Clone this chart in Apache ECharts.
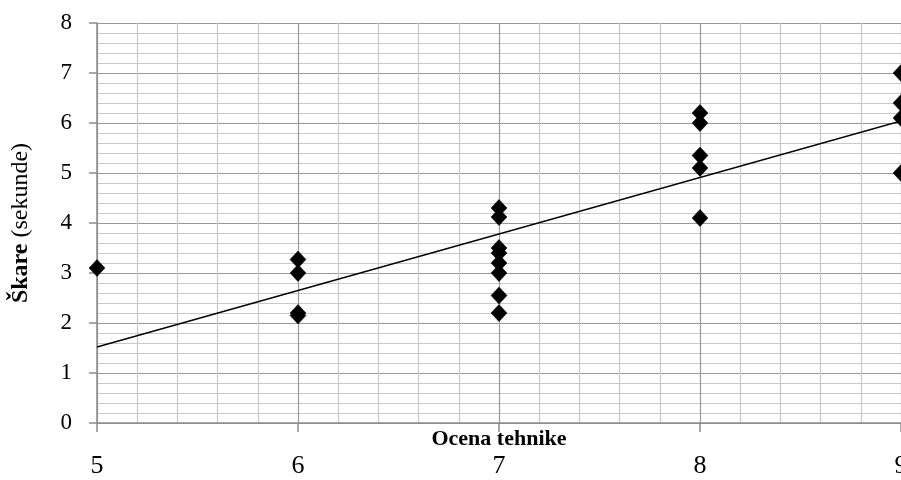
<!DOCTYPE html>
<html><head><meta charset="utf-8">
<script src="https://cdn.jsdelivr.net/npm/echarts@6/dist/echarts.min.js"></script>
<style>html,body{margin:0;padding:0;background:#fff}#c{width:901px;height:480px}</style>
</head><body><div id="c"></div>
<script>
const xValues = [5, 6, 6, 6, 6, 7, 7, 7, 7, 7, 7, 7, 7, 8, 8, 8, 8, 8, 9, 9, 9, 9];
const yValues = [3.1, 3.27, 3.0, 2.2, 2.15, 4.3, 4.12, 3.5, 3.4, 3.2, 3.0, 2.55, 2.2, 6.2, 6.0, 5.35, 5.1, 4.1, 7.0, 6.4, 6.1, 5.0];
const trendX = [5, 9];
const trendY = [1.52, 6.04];
const xTicks = [5, 6, 7, 8, 9];
const yTicks = [0, 1, 2, 3, 4, 5, 6, 7, 8];

const chart = echarts.init(document.getElementById('c'), null, {renderer: 'canvas'});
const serif = '"Liberation Serif", "DejaVu Serif", serif';
chart.setOption({
  animation: false,
  backgroundColor: '#fff',
  grid: {left: 97, top: 23, width: 804, height: 400, containLabel: false, outerBoundsMode: 'none'},
  xAxis: {
    type: 'value', min: xTicks[0], max: xTicks[xTicks.length - 1], interval: 1,
    name: 'Ocena tehnike', nameLocation: 'middle', nameGap: 5, nameMoveOverlap: false,
    nameTextStyle: {fontFamily: serif, fontWeight: 'bold', fontSize: 22, color: '#000', verticalAlign: 'top'},
    axisLine: {show: true, onZero: false, lineStyle: {color: '#8c8c8c', width: 1.5}},
    axisTick: {show: true, length: 9, lineStyle: {color: '#8c8c8c', width: 1.5}},
    axisLabel: {margin: 30, fontFamily: serif, fontSize: 26, color: '#000', hideOverlap: false},
    splitLine: {show: true, lineStyle: {color: '#999', width: 1.2}},
    minorTick: {show: false, splitNumber: 5},
    minorSplitLine: {show: true, lineStyle: {color: '#c8c8c8', width: 1.2}}
  },
  yAxis: {
    type: 'value', min: yTicks[0], max: yTicks[yTicks.length - 1], interval: 1,
    name: '{b|Škare} {n|(sekunde)}', nameLocation: 'middle', nameGap: 64, nameRotate: 90, nameMoveOverlap: false,
    nameTextStyle: {fontFamily: serif, fontSize: 24, color: '#000',
      rich: {b: {fontFamily: serif, fontSize: 24, fontWeight: 'bold', color: '#000'},
             n: {fontFamily: serif, fontSize: 24, color: '#000'}}},
    axisLine: {show: true, onZero: false, lineStyle: {color: '#8c8c8c', width: 1.5}},
    axisTick: {show: true, length: 8, lineStyle: {color: '#8c8c8c', width: 1.5}},
    axisLabel: {margin: 25, fontFamily: serif, fontSize: 23, color: '#000'},
    splitLine: {show: true, lineStyle: {color: '#999', width: 1.2}},
    minorTick: {show: false, splitNumber: 5},
    minorSplitLine: {show: true, lineStyle: {color: '#c8c8c8', width: 1.2}}
  },
  series: [
    {
      type: 'line', data: trendX.map((x, i) => [x, trendY[i]]),
      symbol: 'none', lineStyle: {color: '#000', width: 1.3}, z: 3
    },
    {
      type: 'scatter', data: xValues.map((x, i) => [x, yValues[i]]),
      symbol: 'diamond', symbolSize: [16, 17],
      itemStyle: {color: '#000', borderColor: '#000', borderWidth: 0.5, opacity: 1}, z: 4
    }
  ]
});
</script></body></html>
